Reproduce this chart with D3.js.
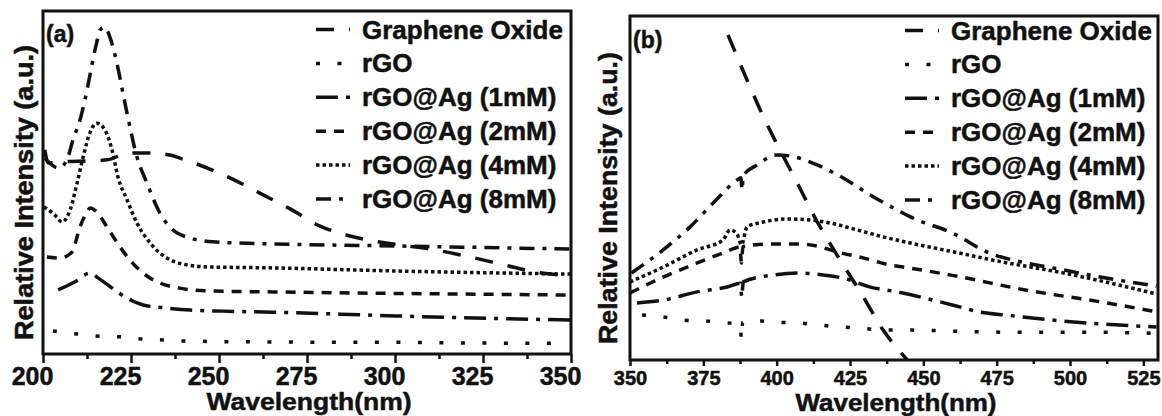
<!DOCTYPE html>
<html>
<head>
<meta charset="utf-8">
<script src="https://cdn.jsdelivr.net/npm/d3@7"></script>
<style>
  body { margin: 0; background: #fff; }
  svg { display: block; font-family: "Liberation Sans", Arial, sans-serif; font-weight: bold; }
  text { stroke: #111; stroke-width: 0.5px; }
</style>
</head>
<body>
<svg id="chart" width="1162" height="416"></svg>
<script>
// legend labels (same order in both panels)
var seriesNames = ["Graphene Oxide", "rGO", "rGO@Ag (1mM)", "rGO@Ag (2mM)", "rGO@Ag (4mM)", "rGO@Ag (8mM)"];

// panel (a): [wavelength nm, relative intensity a.u.]
var goA = [[200.5,59.5],[201.5,55.7],[205,56.0],[213.4,56.3],[218.2,56.6],[224.7,58.6],[230.4,58.6],[236.1,58.0],[238.9,57.1],[247.4,53.9],[256,49.9],[261.6,46.9],[270.2,42.3],[278.7,37.3],[287.2,34.4],[301.4,31.8],[309.9,30.6],[319.9,28.6],[331.3,25.9],[339.8,23.9],[349.5,22.8]];
var rgoA = [[202.8,6.7],[210,5.8],[216,5.2],[222,5.0],[228,4.4],[234,4.1],[240,3.8],[265,3.5],[300,3.4],[324,3.2],[349,3.1]];
var ag1A = [[204.3,18.7],[209,21.0],[213.4,23.6],[215.6,22.2],[223.9,16.3],[228.4,14.3],[235.2,13.4],[241.8,12.8],[251.1,12.5],[265.3,12.2],[300,11.1],[350,9.9]];
var ag2A = [[201.1,28.3],[204.8,28.0],[208.2,29.7],[210.5,37.0],[212.5,41.4],[213.4,42.6],[215.3,41.4],[218.2,37.0],[221.9,31.2],[224.7,27.4],[228.4,23.6],[233.2,20.7],[238.9,19.2],[246.6,18.4],[265.3,18.1],[350,17.2]];
var ag4A = [[200.3,42.9],[203.4,40.5],[205.4,38.5],[207.7,42.0],[209.7,49.9],[211.4,57.4],[213.4,64.7],[215.3,67.3],[217.6,65.3],[219.6,59.5],[221.3,51.6],[223.9,44.9],[226.7,38.2],[230.4,32.4],[235.2,28.0],[239.8,26.2],[246.6,25.4],[265.3,25.1],[300,24.2],[350,23.3]];
var ag8A = [[200.5,57.1],[204.5,54.2],[207,57.1],[208.5,62.4],[210.5,68.2],[211.9,74.1],[215.3,91.0],[216.2,94.5],[217.6,95.3],[219,92.4],[221,84.8],[222.7,76.1],[224.1,69.1],[226.7,57.4],[229.5,49.9],[233.2,41.1],[236.9,36.2],[241.8,33.8],[248.3,32.7],[265.3,32.1],[300,31.5],[350,30.6]];

// panel (b)
var goB = [[383.4,94.5],[389.9,81.4],[394.4,72.7],[400.6,61.9],[407,51.5],[413.1,41.3],[420.6,30.5],[428.5,19.8],[436.3,8.7],[444.5,0],[449,-4.4]];
var rgoB = [[354.1,13.1],[361.3,12.5],[368.1,11.6],[376.3,11.3],[383.1,10.8],[387.6,10.5],[388,5.8],[388.4,10.9],[391,11.6],[398.8,11.0],[407,10.8],[413.8,10.2],[421.7,9.6],[428.5,9.3],[436.3,8.7],[443.2,8.7],[476.3,8.1],[503.6,8.1],[527.5,7.8]];
var ag1B = [[352.4,16.6],[361.3,17.4],[372.9,19.8],[383.1,21.2],[387.7,22.3],[388.1,18.3],[388.6,22.7],[398.8,24.7],[407,25.3],[415.9,24.7],[422.7,23.8],[431.9,21.2],[441.1,19.8],[459.9,16.0],[469.5,13.9],[478.7,13.0],[497.8,11.3],[510.4,10.5],[529.5,9.6]];
var ag2B = [[350,19.5],[361.3,24.1],[372.9,28.2],[381.7,31.1],[387.5,32.8],[388,28.2],[388.5,33.0],[397.8,33.7],[407,33.7],[413.8,33.1],[420.6,31.4],[429.5,29.7],[438.7,27.6],[445.6,26.7],[459.9,24.6],[485.2,20.3],[510.4,16.9],[529.5,14.0]];
var ag4B = [[350,22.7],[361.3,27.0],[372.9,32.0],[381.7,34.9],[384.1,37.8],[386.5,36.6],[388,33.5],[389.9,38.7],[395.4,40.1],[403.6,41.0],[411.4,40.7],[418.3,39.8],[427.5,37.8],[436.3,35.8],[445.6,34.0],[459.9,31.5],[476.3,28.6],[497.8,25.3],[529.5,19.2]];
var ag8B = [[350.5,25.3],[361.3,32.0],[370.5,38.7],[378.3,45.6],[386.5,52.3],[387.8,53.0],[388.2,49.4],[388.6,53.5],[393.3,56.7],[400.2,59.6],[404.6,59.3],[413.8,56.7],[422.7,52.9],[431.9,48.0],[441.1,43.6],[445.6,41.6],[459.9,36.9],[472.5,31.1],[485.2,28.2],[497.8,26.2],[510.4,24.1],[529.5,21.5]];

var ticksA = [200, 225, 250, 275, 300, 325, 350];
var ticksB = [350, 375, 400, 425, 450, 475, 500, 525];

// line styles per series
var dashes = ["18,15", "4,17.5", "22,8,4,8", "10,8", "3.5,3", "15,8,4,8"];

var panels = [
  { id: "a", series: [goA, rgoA, ag1A, ag2A, ag4A, ag8A], domain: [200, 350], ticks: ticksA,
    x0: 43, x1: 571, y0: 11, y1: 354, tag: "(a)", tagX: 46, tagY: 42,
    tickFont: 25, tickDx: -11, tickY: 385, majorLen: 9, minorLen: 5,
    titleY: 410, titleLen: 205, yTitleX: 33, yTitleLen: 295, legX: 316, legY: 29.5 },
  { id: "b", series: [goB, rgoB, ag1B, ag2B, ag4B, ag8B], domain: [350, 530], ticks: ticksB,
    x0: 630, x1: 1158, y0: 16, y1: 360, tag: "(b)", tagX: 633, tagY: 48,
    tickFont: 20, tickDx: 0, tickY: 385, majorLen: 6, minorLen: 4,
    titleY: 411, titleLen: 201, yTitleX: 617, yTitleLen: 292, legX: 905, legY: 30.5 }
];

var svg = d3.select("#chart");

panels.forEach(function(p) {
  var x = d3.scaleLinear().domain(p.domain).range([p.x0, p.x1]);
  var y = d3.scaleLinear().domain([0, 100]).range([p.y1, p.y0]);
  var g = svg.append("g");

  g.append("clipPath").attr("id", "clip-" + p.id)
    .append("rect")
    .attr("x", p.x0).attr("y", p.y0)
    .attr("width", p.x1 - p.x0).attr("height", p.y1 - p.y0);

  var line = d3.line()
    .x(function(d) { return x(d[0]); })
    .y(function(d) { return y(d[1]); })
    .curve(d3.curveMonotoneX);

  g.append("g").attr("clip-path", "url(#clip-" + p.id + ")")
    .selectAll("path")
    .data(p.series)
    .enter().append("path")
    .attr("d", line)
    .attr("fill", "none")
    .attr("stroke", "#111")
    .attr("stroke-width", 3.5)
    .attr("stroke-dasharray", function(d, i) { return dashes[i]; });

  // minor ticks
  var minors = p.ticks.slice(0, -1).map(function(t) { return t + 12.5; });
  g.append("g").attr("transform", "translate(0," + p.y1 + ")")
    .call(d3.axisBottom(x).tickValues(minors).tickSize(p.minorLen).tickFormat(""))
    .call(function(a) { a.select(".domain").remove(); a.selectAll("line").attr("stroke", "#111").attr("stroke-width", 2.5); });

  // major ticks + labels
  g.append("g").attr("transform", "translate(0," + p.y1 + ")")
    .call(d3.axisBottom(x).tickValues(p.ticks).tickSize(p.majorLen))
    .call(function(a) {
      a.select(".domain").remove();
      a.selectAll("line").attr("stroke", "#111").attr("stroke-width", 2.5);
      a.selectAll("text")
        .attr("y", p.tickY - p.y1).attr("dy", 0).attr("dx", p.tickDx)
        .attr("fill", "#111")
        .style("font-size", p.tickFont + "px")
        .style("font-family", "'Liberation Sans', Arial, sans-serif")
        .style("font-weight", "bold");
    });

  // frame
  g.append("rect")
    .attr("x", p.x0).attr("y", p.y0)
    .attr("width", p.x1 - p.x0).attr("height", p.y1 - p.y0)
    .attr("fill", "none").attr("stroke", "#111").attr("stroke-width", 3);

  // axis titles
  g.append("text")
    .attr("x", (p.x0 + p.x1) / 2 + 2).attr("y", p.titleY)
    .attr("text-anchor", "middle").attr("fill", "#111")
    .attr("textLength", p.titleLen).attr("lengthAdjust", "spacingAndGlyphs")
    .style("font-size", "24px")
    .text("Wavelength(nm)");

  var yMid = (p.y0 + p.y1) / 2 + 10;
  g.append("text")
    .attr("transform", "translate(" + p.yTitleX + "," + yMid + ") rotate(-90)")
    .attr("text-anchor", "middle").attr("fill", "#111")
    .attr("textLength", p.yTitleLen).attr("lengthAdjust", "spacingAndGlyphs")
    .style("font-size", "25px")
    .text("Relative Intensity (a.u.)");

  g.append("text")
    .attr("x", p.tagX).attr("y", p.tagY).attr("fill", "#111")
    .style("font-size", "23px")
    .text(p.tag);

  // legend
  var leg = g.append("g").selectAll("g")
    .data(seriesNames)
    .enter().append("g")
    .attr("transform", function(d, i) { return "translate(" + p.legX + "," + (p.legY + i * 33.9) + ")"; });
  leg.append("line")
    .attr("x1", 0).attr("x2", 34)
    .attr("stroke", "#111").attr("stroke-width", 3.5)
    .attr("stroke-dasharray", function(d, i) { return dashes[i]; });
  leg.append("text")
    .attr("x", 46).attr("y", 9).attr("fill", "#111")
    .style("font-size", "26px")
    .text(function(d) { return d; });
});
</script>
</body>
</html>
